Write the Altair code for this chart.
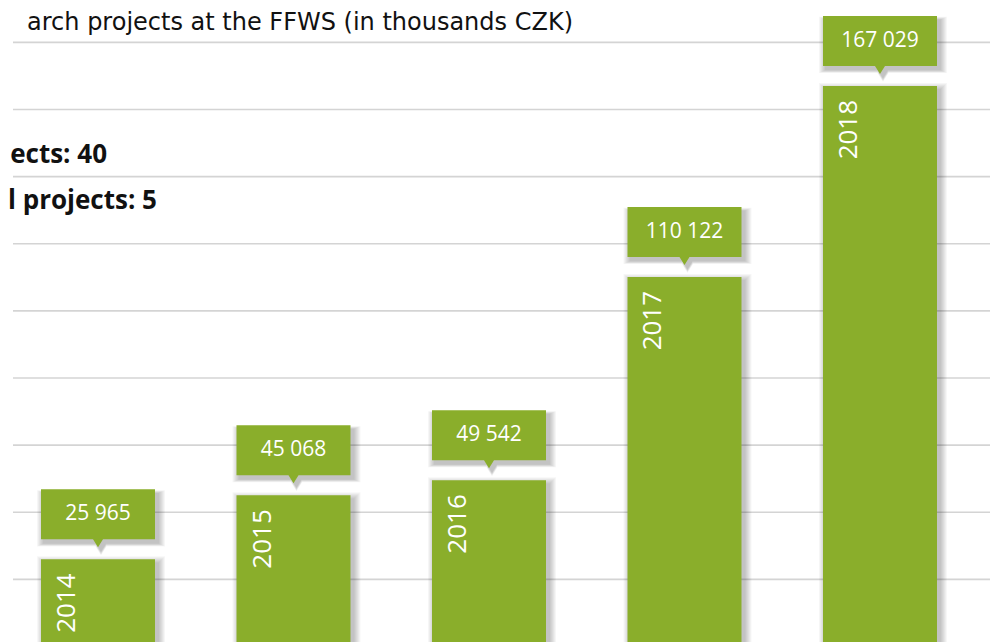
import altair as alt
import pandas as pd

years = [2014, 2015, 2016, 2017, 2018]
values = [25965, 45068, 49542, 110122, 167029]
labels = [f"{v:,}".replace(",", " ") for v in values]
grid_values = [20000, 40000, 60000, 80000, 100000, 120000, 140000, 160000, 180000]

# texts as they are visible in the (cropped) reference
title_text = "arch projects at the FFWS (in thousands CZK)"
note1 = "ects: 40"
note2 = "l projects: 5"

GREEN = "#8aae2b"
FONT = "Open Sans"
W, H = 982, 634

df = pd.DataFrame({"year": years, "value": values, "label": labels})
grid_df = pd.DataFrame({"g": grid_values})

xscale = alt.Scale(domain=[2013.5396, 2018.5627], nice=False, zero=False, padding=0)
yscale = alt.Scale(domain=[1341, 190240], zero=False, nice=False)

X = alt.X("year:Q", scale=xscale, axis=None)
Y = alt.Y("value:Q", scale=yscale, axis=None)

base = alt.Chart(df)

grid = alt.Chart(grid_df).mark_rule(color="#d4d4d4", strokeWidth=1.6).encode(
    y=alt.Y("g:Q", scale=yscale, axis=None),
    x=alt.value(5),
    x2=alt.value(W),
)

layers = [grid]

# soft drop shadow of the bars
for k in range(1, 8):
    layers.append(
        base.mark_bar(size=114 + 2 * k, xOffset=3, yOffset=4 - k, color="#000000",
                      opacity=0.035, clip=True).encode(x=X, y=Y, y2=alt.datum(0))
    )

bars = base.mark_bar(size=114, color=GREEN, clip=True).encode(x=X, y=Y, y2=alt.datum(0))
layers.append(bars)

callout_path = ("M-1,-0.4386 L1,-0.4386 L1,0.4386 L0.0877,0.4386 L0,0.5789 "
                "L-0.0877,0.4386 L-1,0.4386 Z")

for k in range(1, 8):
    layers.append(
        base.mark_point(shape=callout_path, size=(2 * (57 + k)) ** 2, filled=True,
                        color="#000000", opacity=0.035, xOffset=3, yOffset=-41,
                        strokeWidth=0).encode(x=X, y=Y)
    )

callouts = base.mark_point(shape=callout_path, size=114 ** 2, filled=True, color=GREEN,
                           opacity=1, yOffset=-45, strokeWidth=0).encode(x=X, y=Y)
layers.append(callouts)

callout_text = base.mark_text(font=FONT, fontSize=21, color="white", baseline="middle",
                              align="center", yOffset=-45).encode(x=X, y=Y, text="label:N")
layers.append(callout_text)

year_text = base.mark_text(font=FONT, fontSize=26, color="white", angle=270, align="right",
                           baseline="alphabetic", xOffset=-23, yOffset=14).encode(
    x=X, y=Y, text="year:N")
layers.append(year_text)

title = alt.Chart(pd.DataFrame({"t": [title_text]})).mark_text(
    font="DejaVu Sans", fontSize=24, color="#111111", align="right",
    baseline="alphabetic").encode(x=alt.value(565), y=alt.value(22), text="t:N")
n1 = alt.Chart(pd.DataFrame({"t": [note1]})).mark_text(
    font=FONT, fontSize=26, fontWeight="bold", color="#111111", align="right",
    baseline="alphabetic").encode(x=alt.value(99), y=alt.value(155), text="t:N")
n2 = alt.Chart(pd.DataFrame({"t": [note2]})).mark_text(
    font=FONT, fontSize=26, fontWeight="bold", color="#111111", align="right",
    baseline="alphabetic").encode(x=alt.value(149), y=alt.value(201), text="t:N")
layers += [title, n1, n2]

chart = alt.layer(*layers).properties(
    width=W, height=H,
    autosize=alt.AutoSizeParams(type="none"),
    padding=0,
).configure_view(stroke=None)

chart.save("out.html", embed_options={"renderer": "svg", "actions": False})
